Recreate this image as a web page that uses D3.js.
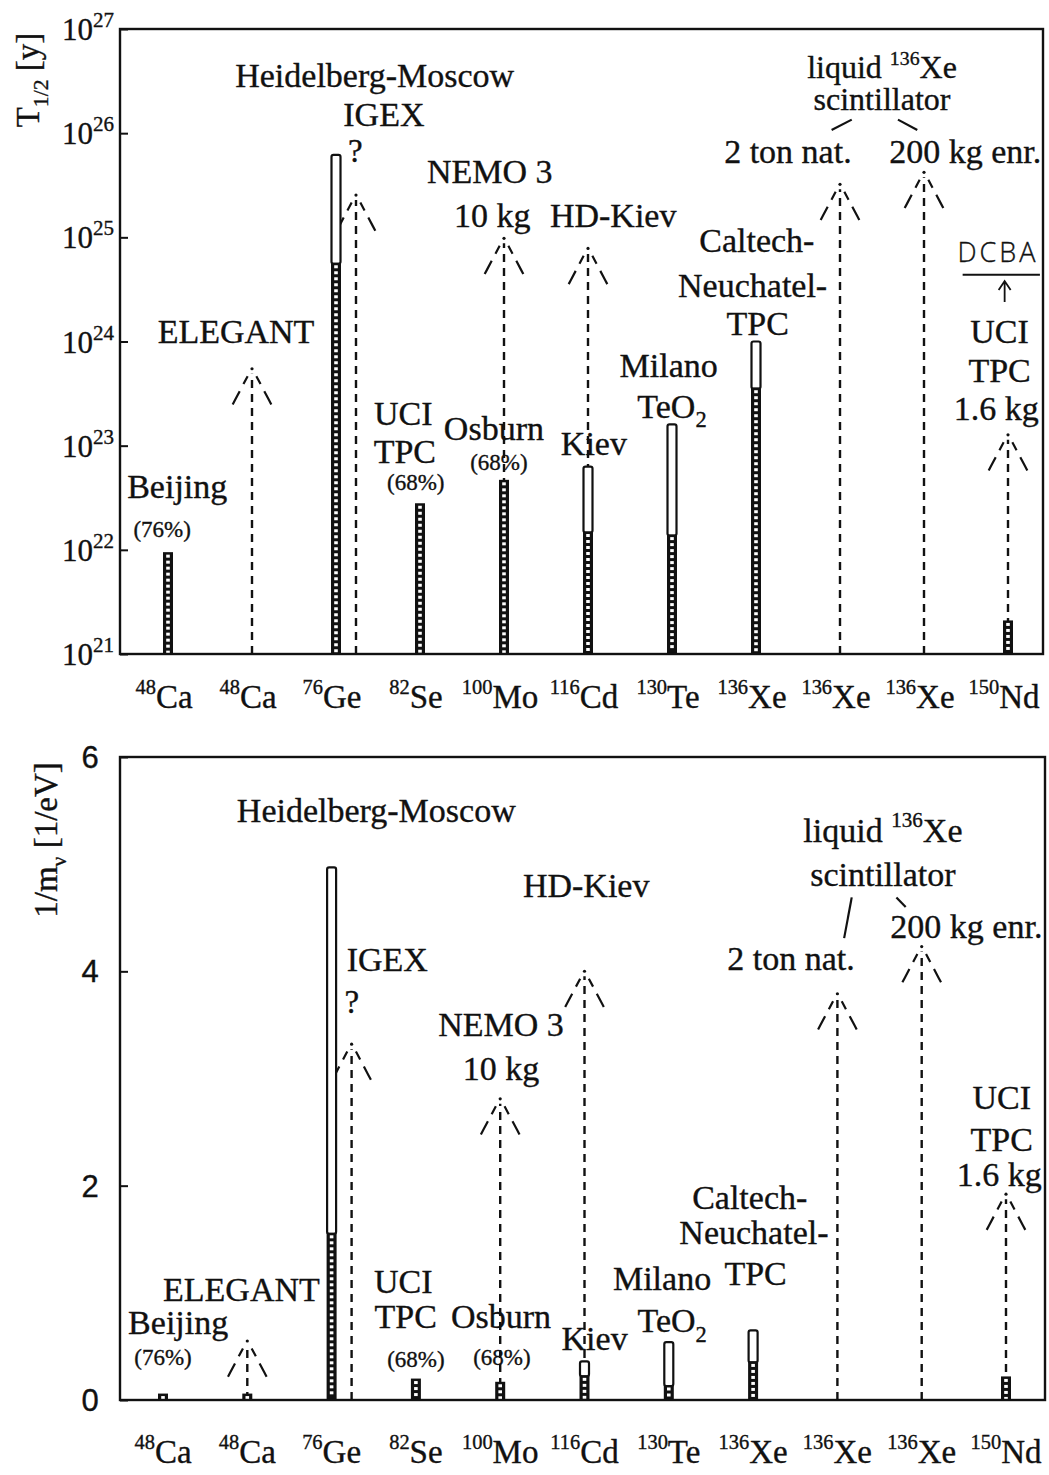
<!DOCTYPE html>
<html><head><meta charset="utf-8">
<script src="https://cdn.jsdelivr.net/npm/d3@7"></script>
<style>
body{margin:0;background:#fff}
svg{display:block;background:#fff}
text{font-family:"Liberation Serif","Times New Roman",serif;fill:#111;stroke:#111;stroke-width:0.35}
</style>
</head><body>
<svg id="c" width="1049" height="1475"></svg>
<script>
// ---------- data ----------
const massNumbers = [48, 48, 76, 82, 100, 116, 130, 136, 136, 136, 150];
const elements    = ["Ca","Ca","Ge","Se","Mo","Cd","Te","Xe","Xe","Xe","Nd"];

// half-life T1/2 [y]: hatched (reached) and open (extension) parts of the bars
const halfLifeReached  = [9.5e21, null, 5.7e24, 2.8e22, 4.7e22, 1.5e22, 1.4e22, 3.6e23, null, null, 2.1e21];
const halfLifeExtended = [null,   null, 6.2e25, null,   null,   6.3e22, 1.6e23, 1.0e24, null, null, null];

// 1/m_nu [1/eV]
const invMassReached  = [0.06, 0.06, 1.56, 0.20, 0.17, 0.23, 0.14, 0.36, null, null, 0.22];
const invMassExtended = [null, null, 4.97, null, null, 0.36, 0.54, 0.65, null, null, null];

// planned experiments (dashed arrows)
const arrowExperiments = ["ELEGANT","IGEX","NEMO 3","HD-Kiev","2 ton nat.","200 kg enr.","UCI TPC 1.6 kg"];
const arrowCategory    = [1, 2, 4, 5, 8, 9, 10];
const arrowBesideBar   = [false, true, false, false, false, false, false];
const halfLifeArrow    = [5.6e23, 2.6e25, 1.0e25, 8.0e24, 3.3e25, 4.3e25, 1.3e23];
const invMassArrow     = [0.56, 3.33, 2.82, 4.01, 3.80, 4.24, 1.93];

const halfLifeTicks = [21, 22, 23, 24, 25, 26, 27];
const invMassTicks  = [0, 2, 4, 6];

// annotation labels: [text, category position, value (log10 T for top panel)]
const notesTop = [
  ["Heidelberg-Moscow", 2.46, 26.44], ["IGEX", 2.57, 26.07], ["?", 2.23, 25.72, "q"],
  ["NEMO 3", 3.83, 25.52], ["10 kg", 3.86, 25.10], ["HD-Kiev", 5.30, 25.10],
  ["ELEGANT", 0.81, 23.99], ["Beijing", 0.11, 22.50], ["(76%)", -0.07, 22.12, "s"],
  ["UCI", 2.80, 23.20], ["TPC", 2.82, 22.83], ["(68%)", 2.95, 22.57, "s"],
  ["Osburn", 3.88, 23.05], ["(68%)", 3.94, 22.77, "s"], ["Kiev", 5.07, 22.91],
  ["Milano", 5.96, 23.66], ["TeO_{2}", 6.00, 23.27],
  ["Caltech-", 7.01, 24.86], ["Neuchatel-", 6.96, 24.43], ["TPC", 7.02, 24.06],
  ["liquid ^{136}Xe", 8.50, 26.53, "t"], ["scintillator", 8.50, 26.22, "t"],
  ["2 ton nat.", 7.38, 25.71], ["200 kg enr.", 9.49, 25.71],
  ["UCI", 9.90, 23.99], ["TPC", 9.90, 23.61], ["1.6 kg", 9.86, 23.25]
];
const notesBottom = [
  ["Heidelberg-Moscow", 2.53, 5.39], ["IGEX", 2.66, 4.00], ["?", 2.24, 3.61, "q"],
  ["NEMO 3", 4.01, 3.40], ["10 kg", 4.01, 2.99], ["HD-Kiev", 5.02, 4.69],
  ["liquid ^{136}Xe", 8.54, 5.21], ["scintillator", 8.54, 4.80],
  ["2 ton nat.", 7.45, 4.01], ["200 kg enr.", 9.53, 4.31],
  ["UCI", 9.95, 2.72], ["TPC", 9.95, 2.32], ["1.6 kg", 9.92, 2.00],
  ["Caltech-", 6.96, 1.78], ["Neuchatel-", 7.01, 1.46], ["TPC", 7.03, 1.07],
  ["Milano", 5.92, 1.03], ["TeO_{2}", 6.04, 0.63], ["Kiev", 5.12, 0.47],
  ["ELEGANT", 0.93, 0.92], ["Beijing", 0.18, 0.62], ["(76%)", 0.0, 0.33, "s"],
  ["UCI", 2.85, 1.00], ["TPC", 2.88, 0.67], ["(68%)", 3.00, 0.31, "s"],
  ["Osburn", 4.01, 0.67], ["(68%)", 4.02, 0.33, "s"]
];
// connector strokes from "scintillator" [x0,y0,x1,y1] in category/value units
const connTop    = [[7.90, 26.03, 8.14, 26.13], [8.69, 26.13, 8.92, 26.03]];
const connBottom = [[8.08, 4.31, 8.17, 4.69], [8.70, 4.69, 8.81, 4.60]];

// ---------- drawing ----------
const svg = d3.select("#c");
const INK = "#111";

function richText(sel, str, size) {
  const parts = str.split(/(\^\{[^}]*\}|_\{[^}]*\})/).filter(s => s.length);
  let shift = 0;
  parts.forEach(p => {
    let t, target, fs;
    if (p.startsWith("^{")) { t = p.slice(2, -1); target = -0.42 * size; fs = 0.62 * size; }
    else if (p.startsWith("_{")) { t = p.slice(2, -1); target = 0.28 * size; fs = 0.66 * size; }
    else { t = p; target = 0; fs = size; }
    sel.append("tspan").attr("dy", target - shift).attr("font-size", fs).text(t);
    shift = target;
  });
}

function panel(opt) {
  const { x, y, x0, x1, yBottom, yTop, reached, extended, arrows, notes, conn, labelY, labelDx } = opt;
  const g = svg.append("g");

  // arrows (dashed)
  arrowCategory.forEach((c, i) => {
    const v = arrows[i];
    const cx = x(c) + (arrowBesideBar[i] ? 20 : 0);
    const ty = y(v);
    g.append("line").attr("x1", cx).attr("x2", cx).attr("y1", yBottom).attr("y2", ty + 6)
      .attr("stroke", INK).attr("stroke-width", 2.4).attr("stroke-dasharray", "8,6");
    [-1, 1].forEach(s => {
      g.append("line").attr("x1", cx + s * 2).attr("y1", ty + 4).attr("x2", cx + s * 20).attr("y2", ty + 38)
        .attr("stroke", INK).attr("stroke-width", 2.2).attr("stroke-dasharray", "0,5,9,8,10");
    });
    g.append("circle").attr("cx", cx).attr("cy", ty + 1).attr("r", 1.6).attr("fill", INK);
  });

  // bars
  const w = 9;
  d3.range(massNumbers.length).forEach(i => {
    const cx = x(i);
    const yr = reached[i] != null ? y(reached[i]) : null;
    const ye = extended[i] != null ? y(extended[i]) : null;
    if (ye != null) {
      const yb = yr != null ? yr : yBottom;
      g.append("rect").attr("x", cx - w / 2).attr("y", ye).attr("width", w).attr("height", yb - ye + 1)
        .attr("rx", 2).attr("fill", "#fff").attr("stroke", INK).attr("stroke-width", 2.2);
    }
    if (yr != null) {
      g.append("rect").attr("x", cx - w / 2 - 0.5).attr("y", yr).attr("width", w + 1).attr("height", yBottom - yr)
        .attr("fill", INK);
      for (let yy = yr + 2.5; yy < yBottom - 3; yy += 6) {
        g.append("rect").attr("x", cx - 1.8).attr("y", yy).attr("width", 3.6).attr("height", 3)
          .attr("fill", "#fff");
      }
    }
  });

  // frame
  g.append("rect").attr("x", x0).attr("y", yTop).attr("width", x1 - x0).attr("height", yBottom - yTop)
    .attr("fill", "none").attr("stroke", INK).attr("stroke-width", 2.4);

  // x labels
  d3.range(massNumbers.length).forEach(i => {
    const t = g.append("text").attr("x", x(i) + labelDx).attr("y", labelY).attr("text-anchor", "middle");
    richText(t, "^{" + massNumbers[i] + "}" + elements[i], 33);
  });

  // annotations
  notes.forEach(n => {
    const size = n[3] === "s" ? 23 : (n[3] === "t" ? 32 : (n[3] === "q" ? 33 : 34));
    const t = g.append("text").attr("x", x(n[1])).attr("y", opt.ny(n[2])).attr("text-anchor", "middle");
    richText(t, n[0], size);
  });
  conn.forEach(c => {
    g.append("line").attr("x1", x(c[0])).attr("y1", opt.ny(c[1])).attr("x2", x(c[2])).attr("y2", opt.ny(c[3]))
      .attr("stroke", INK).attr("stroke-width", 2.2);
  });
  return g;
}

// ----- top panel -----
const xTop = d3.scaleLinear().domain([0, 10]).range([168, 1008]);
const yTopS = d3.scaleLog().domain([1e21, 1e27]).range([654, 29]);
const gTop = panel({
  x: xTop, y: yTopS, ny: v => yTopS(Math.pow(10, v)), x0: 120, x1: 1043, yBottom: 654, yTop: 29,
  reached: halfLifeReached, extended: halfLifeExtended, arrows: halfLifeArrow,
  notes: notesTop, conn: connTop, labelY: 708, labelDx: -4
});
const axTop = d3.axisLeft(yTopS).tickValues(halfLifeTicks.map(e => Math.pow(10, e)))
  .tickSize(-8).tickFormat("");
gTop.append("g").attr("transform", "translate(120,0)").call(axTop)
  .call(a => a.select(".domain").remove())
  .call(a => a.selectAll("line").attr("stroke", INK).attr("stroke-width", 2));
halfLifeTicks.forEach(e => {
  const t = gTop.append("text").attr("x", 114).attr("y", yTopS(Math.pow(10, e)) + 11).attr("text-anchor", "end");
  t.append("tspan").attr("font-size", 31).text("10");
  t.append("tspan").attr("font-size", 21).attr("dy", -13).text(e);
});
{
  const t = gTop.append("text").attr("transform", "translate(39,80) rotate(-90)").attr("text-anchor", "middle");
  richText(t, "T_{1/2} [y]", 33);
}
// handwritten DCBA note
gTop.append("text").attr("x", xTop(9.88)).attr("y", yTopS(Math.pow(10, 24.76)))
  .attr("text-anchor", "middle").style("font-family", "'Open Sans', 'DejaVu Sans', sans-serif")
  .attr("font-size", 27).attr("font-weight", 300).attr("stroke-width", 0).attr("letter-spacing", 3).text("DCBA");
gTop.append("line").attr("x1", xTop(9.46)).attr("x2", xTop(10.38))
  .attr("y1", yTopS(Math.pow(10, 24.64))).attr("y2", yTopS(Math.pow(10, 24.64)))
  .attr("stroke", INK).attr("stroke-width", 2);
{
  const ax = xTop(9.96), ya = yTopS(Math.pow(10, 24.58)), yb = yTopS(Math.pow(10, 24.38));
  gTop.append("path").attr("d", `M${ax},${yb}L${ax},${ya}M${ax - 6},${ya + 9}L${ax},${ya}L${ax + 6},${ya + 9}`)
    .attr("fill", "none").attr("stroke", INK).attr("stroke-width", 1.8);
}

// ----- bottom panel -----
const xBot = d3.scaleLinear().domain([0, 10]).range([163, 1006]);
const yBotS = d3.scaleLinear().domain([0, 6]).range([1400, 757]);
const gBot = panel({
  x: xBot, y: yBotS, ny: yBotS, x0: 120, x1: 1045, yBottom: 1400, yTop: 757,
  reached: invMassReached, extended: invMassExtended, arrows: invMassArrow,
  notes: notesBottom, conn: connBottom, labelY: 1463, labelDx: 0
});
const axBot = d3.axisLeft(yBotS).tickValues(invMassTicks).tickSize(-8).tickFormat("");
gBot.append("g").attr("transform", "translate(120,0)").call(axBot)
  .call(a => a.select(".domain").remove())
  .call(a => a.selectAll("line").attr("stroke", INK).attr("stroke-width", 2));
invMassTicks.forEach(v => {
  gBot.append("text").attr("x", 90).attr("y", yBotS(v) + 11).attr("text-anchor", "middle")
    .attr("font-size", 31).style("font-family", "'Liberation Sans', Arial, sans-serif").text(v);
});
{
  const t = gBot.append("text").attr("transform", "translate(57,840) rotate(-90)").attr("text-anchor", "middle");
  richText(t, "1/m_{ν} [1/eV]", 33);
}
</script>
</body></html>
